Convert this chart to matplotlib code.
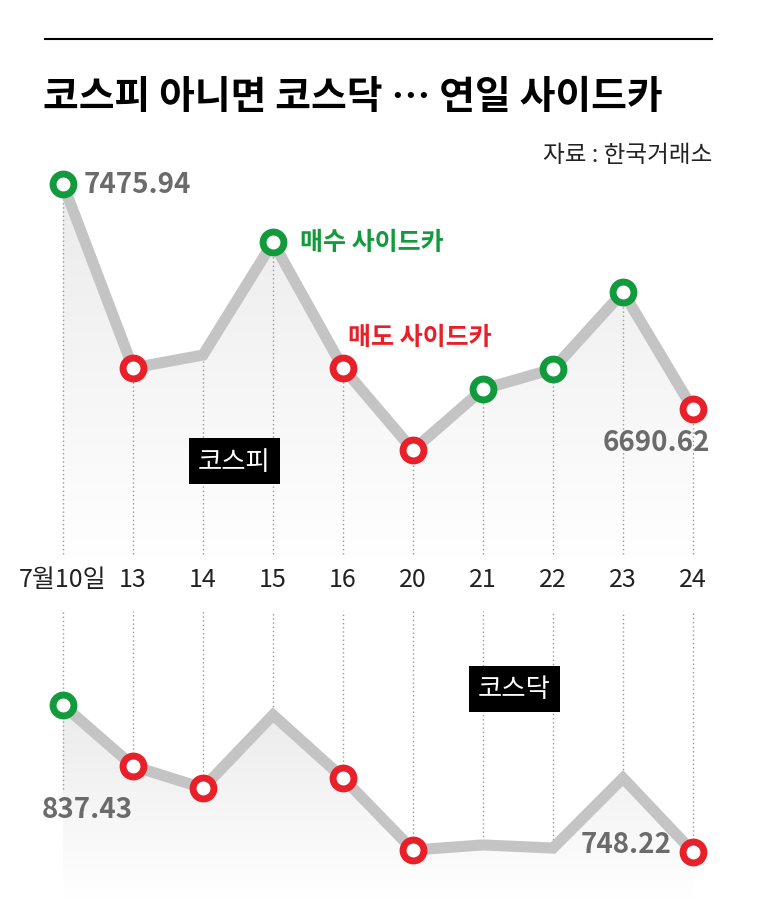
import matplotlib
matplotlib.use("Agg")
import matplotlib.pyplot as plt
import numpy as np
from matplotlib.patches import Polygon

plt.rcParams['font.family'] = ['Noto Sans CJK KR', 'DejaVu Sans']

dates = ["7월10일", "13", "14", "15", "16", "20", "21", "22", "23", "24"]
kospi = [7475.94, 6834, 6879, 7273, 6834, 6547, 6760, 6830, 7099, 6690.62]
kosdaq = [837.43, 800.4, 787.0, 831.4, 793.1, 749.4, 752.5, 750.6, 793.1, 748.22]
kospi_mark = ["g", "r", None, "g", "r", "r", "g", "g", "g", "r"]
kosdaq_mark = ["g", "r", "r", None, "r", "r", None, None, None, "r"]

GREEN = "#139a3c"
RED = "#e8202a"
LINE = "#c4c4c4"
W, H = 768, 920
fig = plt.figure(figsize=(7.68, 9.2), dpi=100)

def ax_px(top, bottom):
    return fig.add_axes([0, 1 - bottom / H, 1, (bottom - top) / H])

x = np.arange(len(dates))
xlim = (-63 / 70, (W - 63) / 70)

def draw(ax, vals, marks, ylim):
    ax.set_xlim(*xlim); ax.set_ylim(*ylim); ax.axis("off")
    poly = Polygon(list(zip(x, vals)) + [(x[-1], ylim[0]), (x[0], ylim[0])],
                   closed=True, facecolor="none", edgecolor="none")
    ax.add_patch(poly)
    grad = np.linspace(0, 1, 256).reshape(-1, 1)
    im = ax.imshow(grad, extent=[x[0], x[-1], ylim[0], max(vals)], origin="upper",
                   cmap=matplotlib.colors.LinearSegmentedColormap.from_list("g", ["#ebebeb", "#ffffff"]),
                   aspect="auto", zorder=1)
    im.set_clip_path(poly)
    ax.plot(x, vals, color=LINE, lw=8, solid_joinstyle="miter", zorder=3)
    for xi, v, m in zip(x, vals, marks):
        if m:
            ax.plot(xi, v, "o", ms=15, mfc="white", mec=GREEN if m == "g" else RED,
                    mew=5, zorder=5)

NUM = dict(color="#6b6b6b", fontsize=20, fontweight="bold", zorder=6)

# KOSPI
ax1 = ax_px(160, 560)
yl1 = (7475.94 - 375 * 3.49, 7475.94 + 25 * 3.49)
draw(ax1, kospi, kospi_mark, yl1)
ax1.vlines(x, yl1[0] + 5 * 3.49, kospi, colors="#999999", linestyles=(0, (1, 2)), lw=1, zorder=2)
ax1.text(x[0] + 0.3, kospi[0], f"{kospi[0]:.2f}", va="center", ha="left", **NUM)
ax1.text(x[-1] + 0.25, kospi[-1] - 33 * 3.49, f"{kospi[-1]:.2f}", va="center", ha="right", **NUM)
ax1.text(x[3] + 0.38, kospi[3], "매수 사이드카", color=GREEN, fontsize=18, fontweight="bold",
         va="center", ha="left", zorder=6)
ax1.text(x[4] + 0.07, kospi[4] + 31 * 3.49, "매도 사이드카", color=RED, fontsize=18, fontweight="bold",
         va="center", ha="left", zorder=6)
ax1.text(2.45, 7475.94 - 277 * 3.49, "코스피", color="white", fontsize=19, va="center", ha="center",
         bbox=dict(boxstyle="square,pad=0.35", fc="black", ec="none"), zorder=6)

# KOSDAQ
ax2 = ax_px(600, 900)
k = 0.6069
yl2 = (837.43 - 194 * k, 837.43 + 106 * k)
draw(ax2, kosdaq, kosdaq_mark, yl2)
ax2.vlines(x, kosdaq, 837.43 + 94 * k, colors="#999999", linestyles=(0, (1, 2)), lw=1, zorder=2)
ax2.vlines(x[0], 837.43 - 84 * k, kosdaq[0], colors="#999999", linestyles=(0, (1, 2)), lw=1, zorder=2)
ax2.text(x[0] - 0.3, 837.43 - 104 * k, f"{kosdaq[0]:.2f}", va="center", ha="left", **NUM)
ax2.text(x[-1] - 0.3, kosdaq[-1] + 8 * k, f"{kosdaq[-1]:.2f}", va="center", ha="right", **NUM)
ax2.text(6.45, 837.43 + 16 * k, "코스닥", color="white", fontsize=19, va="center", ha="center",
         bbox=dict(boxstyle="square,pad=0.35", fc="black", ec="none"), zorder=6)

# date labels
for xi, d in zip(x, dates):
    fig.text((63 + xi * 70) / W, 1 - 580 / H, d, fontsize=18, ha="center", va="center", color="#222222")

fig.add_artist(plt.Line2D([45 / W, 712 / W], [1 - 40 / H] * 2, color="black", lw=1.5))
fig.text(43 / W, 1 - 97 / H, "코스피 아니면 코스닥 … 연일 사이드카", fontsize=28, fontweight="bold",
         ha="left", va="center")
fig.text(712 / W, 1 - 155 / H, "자료 : 한국거래소", fontsize=17, ha="right", va="center", color="#222222")

fig.savefig("out.png", dpi=100, facecolor="white")
